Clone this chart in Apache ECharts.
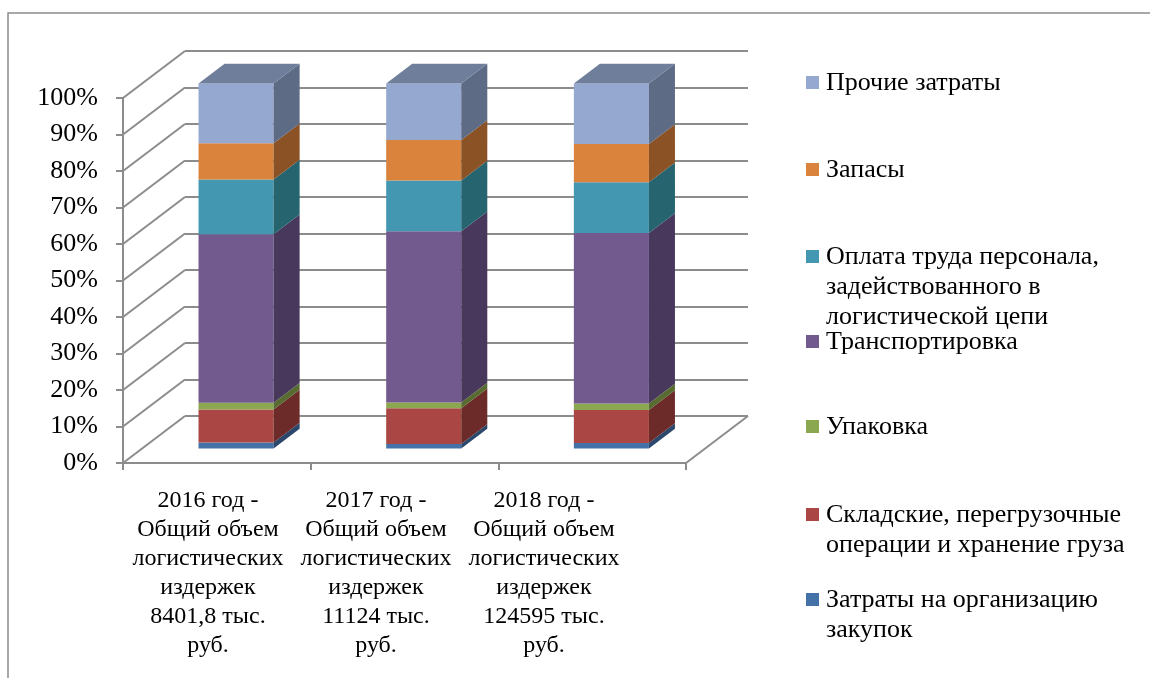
<!DOCTYPE html>
<html>
<head>
<meta charset="utf-8">
<script src="https://cdn.jsdelivr.net/npm/echarts@6/dist/echarts.min.js"></script>
<style>
  html, body { margin: 0; padding: 0; background: #ffffff; }
  #chart { width: 1150px; height: 678px; }
</style>
</head>
<body>
<div id="chart"></div>
<script>
// Categories (axis labels under each column)
var categories = [
  '2016 год -\nОбщий объем\nлогистических\nиздержек\n8401,8 тыс.\nруб.',
  '2017 год -\nОбщий объем\nлогистических\nиздержек\n11124 тыс.\nруб.',
  '2018 год -\nОбщий объем\nлогистических\nиздержек\n124595 тыс.\nруб.'
];

// Cost structure, % of the yearly total (stack order: bottom to top)
var zakupki    = [1.6, 1.2, 1.5];
var skladskie  = [9.1, 9.8, 9.0];
var upakovka   = [1.8, 1.6, 1.8];
var transport  = [46.2, 46.9, 46.7];
var oplata     = [15.0, 13.9, 13.9];
var zapasy     = [9.9, 11.1, 10.5];
var prochie    = [16.4, 15.5, 16.6];

var seriesNames = [
  'Затраты на организацию закупок',
  'Складские, перегрузочные операции и хранение груза',
  'Упаковка',
  'Транспортировка',
  'Оплата труда персонала, задействованного в логистической цепи',
  'Запасы',
  'Прочие затраты'
];
var seriesValues = [zakupki, skladskie, upakovka, transport, oplata, zapasy, prochie];

// Legend captions as wrapped lines (same order as seriesNames)
var legendCaptions = [
  'Затраты на организацию\nзакупок',
  'Складские, перегрузочные\nоперации и хранение груза',
  'Упаковка',
  'Транспортировка',
  'Оплата труда персонала,\nзадействованного в\nлогистической цепи',
  'Запасы',
  'Прочие затраты'
];

// Value-axis ticks
var tickValues = [0, 10, 20, 30, 40, 50, 60, 70, 80, 90, 100];

// Face colours: front, side, top
var frontColors = ['#4472A8', '#AA4643', '#8BA850', '#72598E', '#4397B0', '#DA833C', '#95A9D0'];
var sideColors  = ['#2B486C', '#6C2B29', '#586B30', '#47385C', '#266470', '#8B5226', '#5D6B85'];
var topColors   = ['#35598A', '#8A3735', '#71893F', '#5C4874', '#33808F', '#B16A30', '#6F7F9B'];

var FONT = '"Liberation Serif", "Times New Roman", serif';
var DEPTH = [62, -47];      // oblique offset of the back wall
var BAR_FRONT = 0.31;       // depth fraction of the bars' front face
var BAR_DEPTH = 0.42;       // depth fraction occupied by a bar
var BAR_WIDTH = 0.4;        // share of a category band

// 100%-stacked ranges per series and category
var totals = categories.map(function (c, i) {
  return seriesValues.reduce(function (s, arr) { return s + arr[i]; }, 0);
});
var stacked = [];
var running = categories.map(function () { return 0; });
seriesValues.forEach(function (arr) {
  var rows = arr.map(function (v, i) {
    var share = v / totals[i] * 100;
    var row = [i, running[i], running[i] + share];
    running[i] += share;
    return row;
  });
  stacked.push(rows);
});

function makeBarRenderer(sIdx) {
  var isTop = sIdx === seriesValues.length - 1;
  return function (params, api) {
    var idx = api.value(0);
    var lo = api.coord([idx, api.value(1)]);
    var hi = api.coord([idx, api.value(2)]);
    var band = api.size([1, 0])[0];
    var w = band * BAR_WIDTH;
    var fx = DEPTH[0] * BAR_FRONT, fy = DEPTH[1] * BAR_FRONT;
    var dx = DEPTH[0] * BAR_DEPTH, dy = DEPTH[1] * BAR_DEPTH;
    var x0 = lo[0] + fx - w / 2, x1 = x0 + w;
    var yb = lo[1] + fy, yt = hi[1] + fy;
    var children = [
      { type: 'polygon', shape: { points: [[x0, yb], [x1, yb], [x1, yt], [x0, yt]] },
        style: { fill: frontColors[sIdx] } },
      { type: 'polygon', shape: { points: [[x1, yb], [x1 + dx, yb + dy], [x1 + dx, yt + dy], [x1, yt]] },
        style: { fill: sideColors[sIdx] } }
    ];
    if (isTop) {
      children.push({ type: 'polygon',
        shape: { points: [[x0, yt], [x1, yt], [x1 + dx, yt + dy], [x0 + dx, yt + dy]] },
        style: { fill: topColors[sIdx] } });
    }
    return { type: 'group', children: children };
  };
}

var GRID_LINE = '#8C8C8C';

var series = [];
// Side wall diagonals and the right floor edge
series.push({
  type: 'custom',
  xAxisIndex: 0, yAxisIndex: 0,
  data: tickValues.map(function (v) { return [0, v]; }),
  renderItem: function (params, api) {
    var cs = params.coordSys;
    var p = api.coord([0, api.value(1)]);
    var x = cs.x;
    var kids = [{ type: 'line',
      shape: { x1: x, y1: p[1], x2: x + DEPTH[0], y2: p[1] + DEPTH[1] },
      style: { stroke: GRID_LINE, lineWidth: 2 } }];
    if (api.value(1) === 0) {
      kids.push({ type: 'line',
        shape: { x1: cs.x + cs.width, y1: p[1], x2: cs.x + cs.width + DEPTH[0], y2: p[1] + DEPTH[1] },
        style: { stroke: GRID_LINE, lineWidth: 2 } });
    }
    return { type: 'group', children: kids };
  },
  z: 1,
  silent: true
});
stacked.forEach(function (rows, sIdx) {
  series.push({
    type: 'custom',
    name: seriesNames[sIdx],
    xAxisIndex: 0, yAxisIndex: 0,
    data: rows,
    encode: { x: 0, y: [1, 2] },
    renderItem: makeBarRenderer(sIdx),
    z: 5 + sIdx
  });
});

// Legend drawn as marker + caption blocks
var legendFirstLine = [600, 515, 427, 342, 257, 170, 83];
var graphics = [{
  type: 'rect', shape: { x: 8, y: 13, width: 1300, height: 800 },
  style: { fill: 'none', stroke: '#8C8C8C', lineWidth: 1.5 }, silent: true
}];
legendCaptions.forEach(function (cap, i) {
  var cy = legendFirstLine[i];
  graphics.push({ type: 'rect', shape: { x: 806, y: cy - 7, width: 13, height: 13 },
    style: { fill: frontColors[i] } });
  graphics.push({ type: 'text', x: 826, y: cy - 15,
    style: { text: cap, font: '26px ' + FONT, fill: '#000', lineHeight: 30,
      verticalAlign: 'top', align: 'left' } });
});

var option = {
  animation: false,
  backgroundColor: '#ffffff',
  grid: [
    { left: 123, right: 1150 - 686, top: 98, bottom: 678 - 463 },                   // front plane
    { left: 123 + DEPTH[0], right: 1150 - 686 - DEPTH[0], top: 98 + DEPTH[1], bottom: 678 - 463 - DEPTH[1] }, // back wall
    { left: 124, right: 1150 - 628, top: 98, bottom: 678 - 463 }                    // category captions
  ],
  xAxis: [
    { type: 'category', gridIndex: 0, data: categories,
      axisLine: { lineStyle: { color: GRID_LINE, width: 2 } },
      axisTick: { show: true, length: 7, lineStyle: { color: GRID_LINE, width: 2 } },
      axisLabel: { show: false }, splitLine: { show: false } },
    { type: 'category', gridIndex: 1, data: categories, show: false },
    { type: 'category', gridIndex: 2, data: categories,
      axisLine: { show: false }, axisTick: { show: false },
      axisLabel: { show: true, margin: 23, interval: 0, color: '#000',
        fontFamily: FONT, fontSize: 24, lineHeight: 29, align: 'center' } }
  ],
  yAxis: [
    { type: 'value', gridIndex: 0, min: 0, max: 100, interval: 10,
      axisLine: { show: true, lineStyle: { color: GRID_LINE, width: 2 } },
      axisTick: { show: true, length: 7, lineStyle: { color: GRID_LINE, width: 2 } },
      axisLabel: { formatter: '{value}%', margin: 25, color: '#000', fontFamily: FONT, fontSize: 26 },
      splitLine: { show: false } },
    { type: 'value', gridIndex: 1, min: 0, max: 100, interval: 10,
      axisLine: { show: false }, axisTick: { show: false }, axisLabel: { show: false },
      splitLine: { show: true, lineStyle: { color: GRID_LINE, width: 2 } } },
    { type: 'value', gridIndex: 2, min: 0, max: 100, show: false }
  ],
  series: series,
  graphic: graphics
};

var chart = echarts.init(document.getElementById('chart'), null, { renderer: 'canvas' });
chart.setOption(option);
</script>
</body>
</html>
